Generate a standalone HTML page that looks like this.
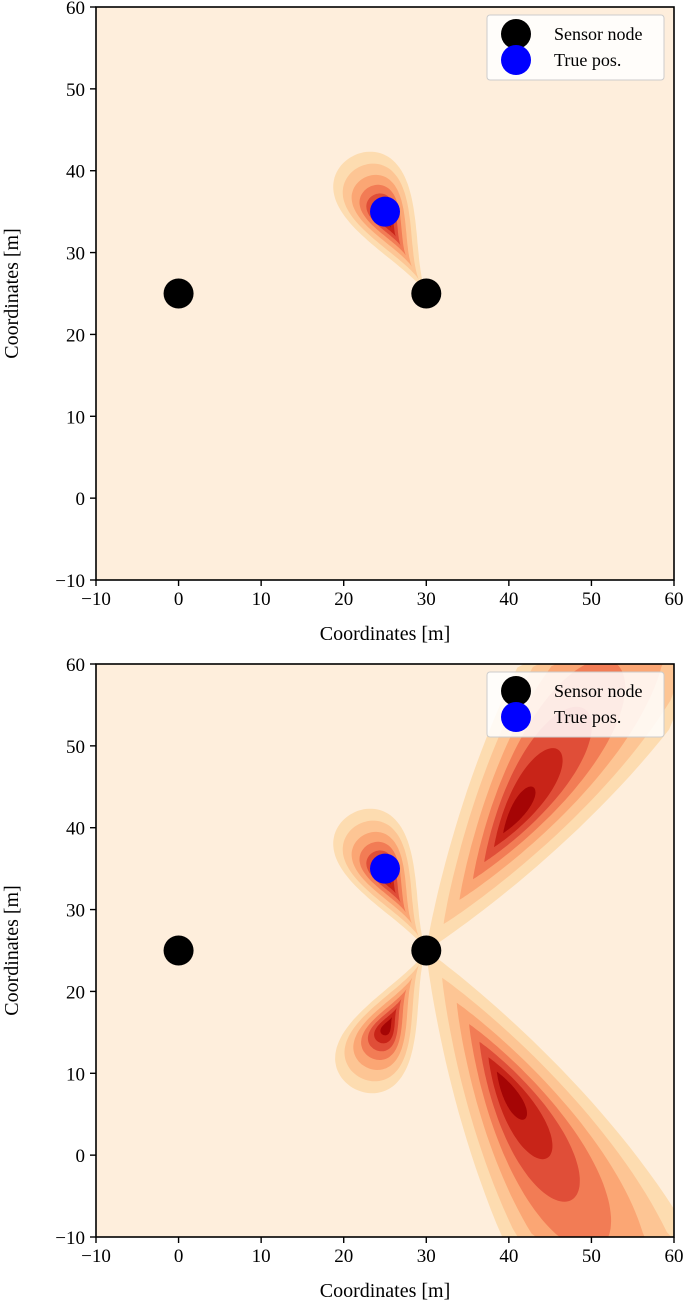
<!DOCTYPE html>
<html><head><meta charset="utf-8"><style>
html,body{margin:0;padding:0;background:#fff;overflow:hidden}
svg{display:block;font-family:"Liberation Serif",serif}
</style></head><body>
<svg id="fig" width="685" height="1309" viewBox="0 0 685 1309" xmlns="http://www.w3.org/2000/svg"></svg>
<script>
// ---- data ----
const ticks = [-10,0,10,20,30,40,50,60];
const sensorX = [0,30];
const sensorY = [25,25];
const trueX = [25];
const trueY = [35];
// lobes: direction (deg), length, head half-width, core fraction, inner shrink exponent, taper exponent
const topLobeAng = [118];
const topLobeLen = [19];
const topLobeW = [4.4];
const topLobeCore = [0.55];
const topLobeShrink = [1];
const topLobeTaper = [1];
const botLobeAng = [118, 243, 57, -60];
const botLobeLen = [19, 19, 70, 70];
const botLobeW = [4.4, 4.4, 8.5, 8.5];
const botLobeCore = [0.55, 0.55, 0.27, 0.27];
const botLobeShrink = [1, 1, 1.15, 1.15];
const botLobeTaper = [1, 1, 0.45, 0.45];
const levelScale = [1, 0.82, 0.65, 0.5, 0.37, 0.25, 0.13];
const levelColor = ['#fddcb0','#fdc594','#fba674','#f27c55','#e04e38','#c82418','#a50505'];

const NS = "http://www.w3.org/2000/svg";
const svg = document.getElementById('fig');
function mk(tag, attrs, parent){const e=document.createElementNS(NS,tag);for(const k in attrs)e.setAttribute(k,attrs[k]);(parent||svg).appendChild(e);return e;}

function drawPlot(idx, top, bottom, lobeAng, lobeLen, lobeW, lobeCore, lobeShrink, lobeTaper){
  const L=96, R=674;
  const sx = v => L + (v+10)/70*(R-L);
  const sy = v => bottom - (v+10)/70*(bottom-top);
  const clampX = v => Math.min(R, Math.max(L, v));
  const clampY = v => Math.min(bottom, Math.max(top, v));
  const g = mk('g',{});
  
  
  const bg = mk('rect',{x:L,y:top,width:R-L,height:bottom-top,fill:'#feeedc'},g);
  
  
  const cg = mk('g',{},g);
  
  
  for(let i=0;i<lobeAng.length;i++){
    const a = lobeAng[i]*Math.PI/180, Ln = lobeLen[i], H = lobeW[i], q = lobeTaper[i];
    const nx = sensorX[1], ny = sensorY[1];
    const cx = nx + lobeCore[i]*Ln*Math.cos(a), cy = ny + lobeCore[i]*Ln*Math.sin(a);
    for(let k=0;k<levelScale.length;k++){
      const s = Math.pow(levelScale[k], lobeShrink[i]);
      let d='';
      for(let j=0;j<=120;j++){
        const t = 2*Math.PI*j/120;
        const h = (1-Math.cos(t))/2;
        const u = Ln*h, v = H*Math.sin(t)*Math.pow(h,q)/0.65;
        let px = nx + u*Math.cos(a) - v*Math.sin(a);
        let py = ny + u*Math.sin(a) + v*Math.cos(a);
        px = cx + (px-cx)*s; py = cy + (py-cy)*s;
        d += (j?'L':'M')+clampX(sx(px)).toFixed(1)+','+clampY(sy(py)).toFixed(1);
      }
      const p = mk('path',{d:d+'Z',fill:levelColor[k]},cg);
      
      
    }
  }
  for(let i=0;i<sensorX.length;i++){
    const c = mk('circle',{cx:sx(sensorX[i]),cy:sy(sensorY[i]),r:15,fill:'#000'},g);
    
    
  }
  for(let i=0;i<trueX.length;i++){
    const c = mk('circle',{cx:sx(trueX[i]),cy:sy(trueY[i]),r:15,fill:'#0000ff'},g);
    
    
  }
  const fr = mk('rect',{x:L,y:top,width:R-L,height:bottom-top,fill:'none',stroke:'#000','stroke-width':1.6},g);
  
  
  ticks.forEach(t=>{
    mk('line',{x1:sx(t),x2:sx(t),y1:bottom,y2:bottom+6,stroke:'#000','stroke-width':1.4},g);
    const xl = mk('text',{x:sx(t),y:bottom+25,'text-anchor':'middle','font-size':19},g);
    xl.textContent = (t<0?'\u2212'+(-t):t);
    
    
    mk('line',{x1:L-6,x2:L,y1:sy(t),y2:sy(t),stroke:'#000','stroke-width':1.4},g);
    const yl = mk('text',{x:L-11,y:sy(t)+7,'text-anchor':'end','font-size':19},g);
    yl.textContent = (t<0?'\u2212'+(-t):t);
    
    
  });
  const xt = mk('text',{x:(L+R)/2,y:bottom+60,'text-anchor':'middle','font-size':20},g);
  xt.textContent='Coordinates [m]';
  
  
  const ym=(top+bottom)/2;
  const yt = mk('text',{x:18,y:ym,'text-anchor':'middle','font-size':20,transform:'rotate(-90 18 '+ym+')'},g);
  yt.textContent='Coordinates [m]';
  
  
  const lg = mk('g',{},g);
  
  
  mk('rect',{x:487,y:top+8,width:177,height:65,rx:3,fill:'#fff','fill-opacity':0.85,stroke:'#ccc','stroke-width':1},lg);
  const e1 = mk('circle',{cx:516,cy:top+27,r:15,fill:'#000'},lg);
  
  
  const e2 = mk('circle',{cx:516,cy:top+53,r:15,fill:'#0000ff'},lg);
  
  
  const t1 = mk('text',{x:554,y:top+33,'font-size':18},lg); t1.textContent='Sensor node';
  
  
  const t2 = mk('text',{x:554,y:top+59,'font-size':18},lg); t2.textContent='True pos.';
  
  
}
drawPlot(1, 7, 580, topLobeAng, topLobeLen, topLobeW, topLobeCore, topLobeShrink, topLobeTaper);
drawPlot(2, 664, 1237, botLobeAng, botLobeLen, botLobeW, botLobeCore, botLobeShrink, botLobeTaper);
</script>
</body></html>
